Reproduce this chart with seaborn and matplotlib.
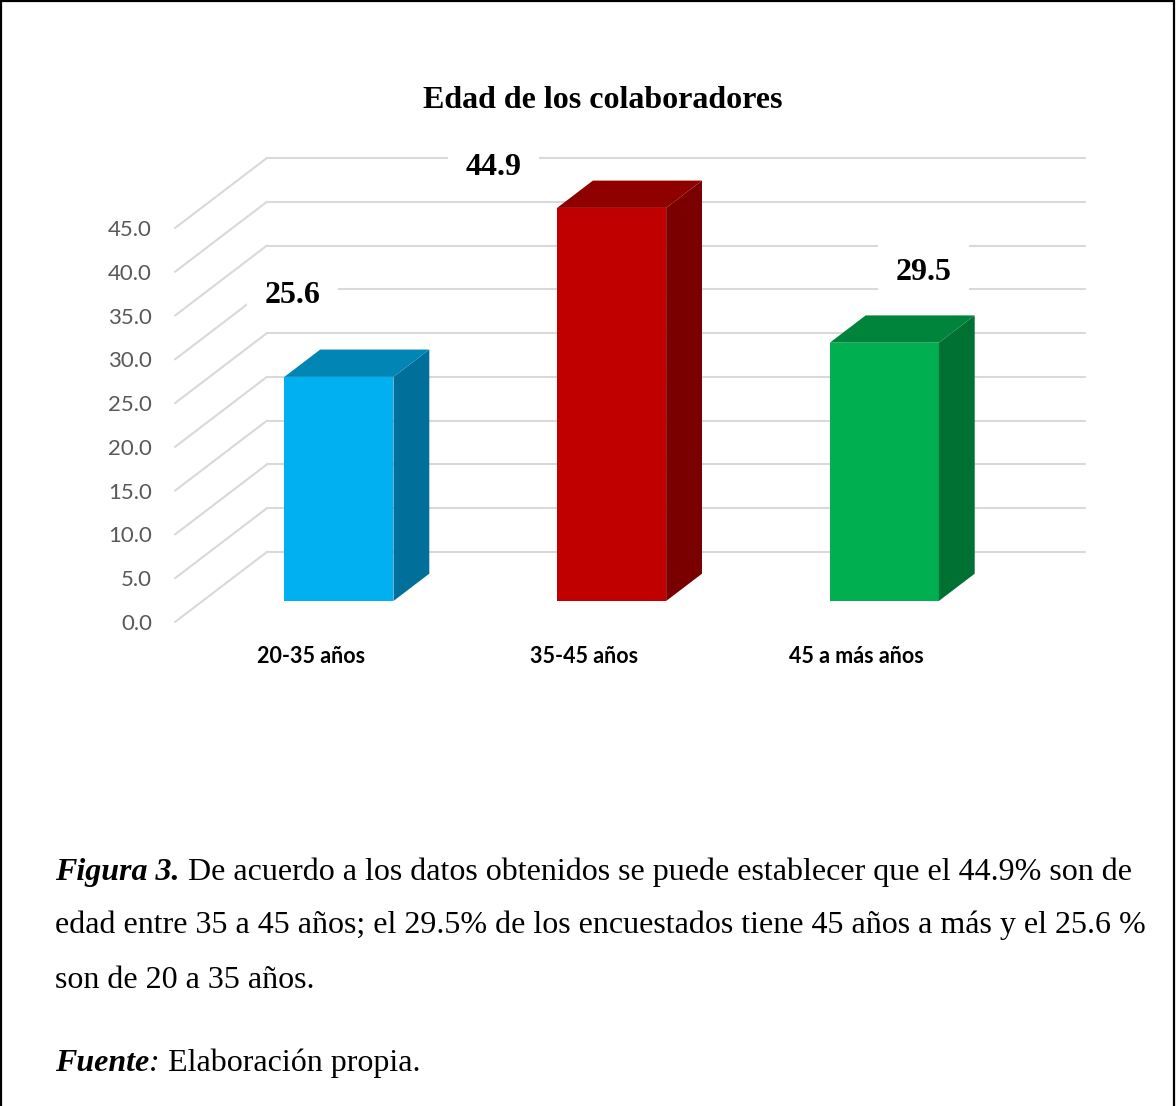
import matplotlib
matplotlib.use("Agg")
import matplotlib.pyplot as plt
import matplotlib.transforms as mtransforms
from matplotlib.patches import Polygon
from matplotlib.lines import Line2D
from matplotlib.text import Annotation
import seaborn as sns

# Datos del gráfico
categorias = ['20-35 años', '35-45 años', '45 a más años']
porcentajes = [25.6, 44.9, 29.5]
valores_eje = [0, 5, 10, 15, 20, 25, 30, 35, 40, 45]
etiquetas_eje = ['0.0', '5.0', '10.0', '15.0', '20.0', '25.0', '30.0', '35.0', '40.0', '45.0']

# Colores de las caras (frente, arriba, lado)
colores_frente = ['#00B0F0', '#C00000', '#00B050']
colores_arriba = ['#0085B5', '#8F0000', '#00843C']
colores_lado = ['#00709A', '#7A0000', '#007033']

# Desplazamiento de profundidad (efecto 3D) en unidades de datos
DX, DY = 0.337, 8.0
F0, F1 = 0.30, 0.69  # profundidad de la cara frontal y trasera de las barras

sns.set_style('white')
plt.rcParams['font.family'] = ['Lato', 'DejaVu Sans']
plt.rcParams['text.color'] = 'black'

fig = plt.figure(figsize=(11.76, 11.06), dpi=100)
ax = fig.add_axes([175 / 1176, 484 / 1106, 910 / 1176, 464 / 1106])

# Barras frontales con seaborn
sns.barplot(x=categorias, y=porcentajes, hue=categorias, palette=colores_frente,
            legend=False, width=0.4, saturation=1, linewidth=0, ax=ax, zorder=3)

desplaza = mtransforms.Affine2D().translate(F0 * DX, F0 * DY) + ax.transData
d = F1 - F0
for i, p in enumerate(ax.patches):
    p.set_transform(desplaza)
    p.set_clip_on(False)
    x0, x1 = p.get_x(), p.get_x() + p.get_width()
    h = p.get_height()
    lado = Polygon([(x1, 0), (x1, h), (x1 + d * DX, h + d * DY), (x1 + d * DX, d * DY)],
                   closed=True, facecolor=colores_lado[i], edgecolor='none',
                   transform=desplaza, zorder=3, clip_on=False)
    arriba = Polygon([(x0, h), (x1, h), (x1 + d * DX, h + d * DY), (x0 + d * DX, h + d * DY)],
                     closed=True, facecolor=colores_arriba[i], edgecolor='none',
                     transform=desplaza, zorder=3, clip_on=False)
    ax.add_patch(lado)
    ax.add_patch(arriba)

# Líneas de cuadrícula (pared trasera y diagonales)
for v in valores_eje:
    ax.plot([-0.5, -0.5 + DX], [v, v + DY], color='#D9D9D9', lw=1.5, zorder=0, clip_on=False)
    ax.plot([-0.5 + DX, 2.5 + DX], [v + DY, v + DY], color='#D9D9D9', lw=1.5, zorder=0, clip_on=False)

ax.set_xlim(-0.5, 2.5 + DX)
ax.set_ylim(0, 45 + DY)
ax.set_yticks(valores_eje)
ax.set_yticklabels(etiquetas_eje, fontsize=16, color='#595959')
ax.set_xticks(range(len(categorias)))
ax.set_xticklabels(categorias, fontsize=15.5, fontweight='bold', color='black')
ax.tick_params(axis='y', length=0, pad=16.5)
ax.tick_params(axis='x', length=0, pad=17)
ax.set_xlabel('')
ax.set_ylabel('')
sns.despine(ax=ax, left=True, bottom=True)

# Etiquetas de valores (posicionadas a mano como en el original)
desfases = [(-46, 81), (-118, 40), (39, 70)]
for i, (v, off) in enumerate(zip(porcentajes, desfases)):
    ax.annotate(f'{v:.1f}', xy=(i + F0 * DX, v + F0 * DY), xytext=off,
                textcoords='offset pixels', ha='center', va='center', color='black',
                fontsize=23, fontweight='bold', family='Liberation Serif',
                bbox=dict(boxstyle='square,pad=0.55', fc='white', ec='none'), zorder=2)

# Título
fig.text(603 / 1176, 1 - 101 / 1106, 'Edad de los colaboradores', ha='center', va='center',
         fontsize=23, fontweight='bold', family='Liberation Serif', color='black')

# Pie de figura
serif = 'Liberation Serif'
tam = 23
t1 = fig.text(55 / 1176, 1 - 880 / 1106, 'Figura 3.', fontsize=tam, family=serif,
              fontweight='bold', style='italic', va='baseline')
fig.add_artist(Annotation(
    ' De acuerdo a los datos obtenidos se puede establecer que el 44.9% son de',
    xy=(1, 0), xycoords=t1, va='bottom', ha='left', fontsize=tam, family=serif))
fig.text(55 / 1176, 1 - 933 / 1106,
         'edad entre 35 a 45 años; el 29.5% de los encuestados tiene 45 años a más y el 25.6 %',
         fontsize=tam, family=serif, va='baseline')
fig.text(55 / 1176, 1 - 988 / 1106, 'son de 20 a 35 años.', fontsize=tam, family=serif, va='baseline')
t4 = fig.text(55 / 1176, 1 - 1071 / 1106, 'Fuente', fontsize=tam, family=serif,
              fontweight='bold', style='italic', va='baseline')
t5 = fig.add_artist(Annotation(':', xy=(1, 0), xycoords=t4, va='bottom', ha='left',
                               fontsize=tam, family=serif, style='italic'))
fig.add_artist(Annotation(' Elaboración propia.', xy=(1, 0), xycoords=t5,
                          va='bottom', ha='left', fontsize=tam, family=serif))

# Borde de la figura
for xs, ys in [([0.001, 0.001], [0, 0.999]), ([0.001, 0.998], [0.999, 0.999]), ([0.998, 0.998], [0, 0.999])]:
    fig.add_artist(Line2D(xs, ys, color='black', lw=1.6, transform=fig.transFigure))

fig.savefig('out.png', dpi=100, facecolor='white')
